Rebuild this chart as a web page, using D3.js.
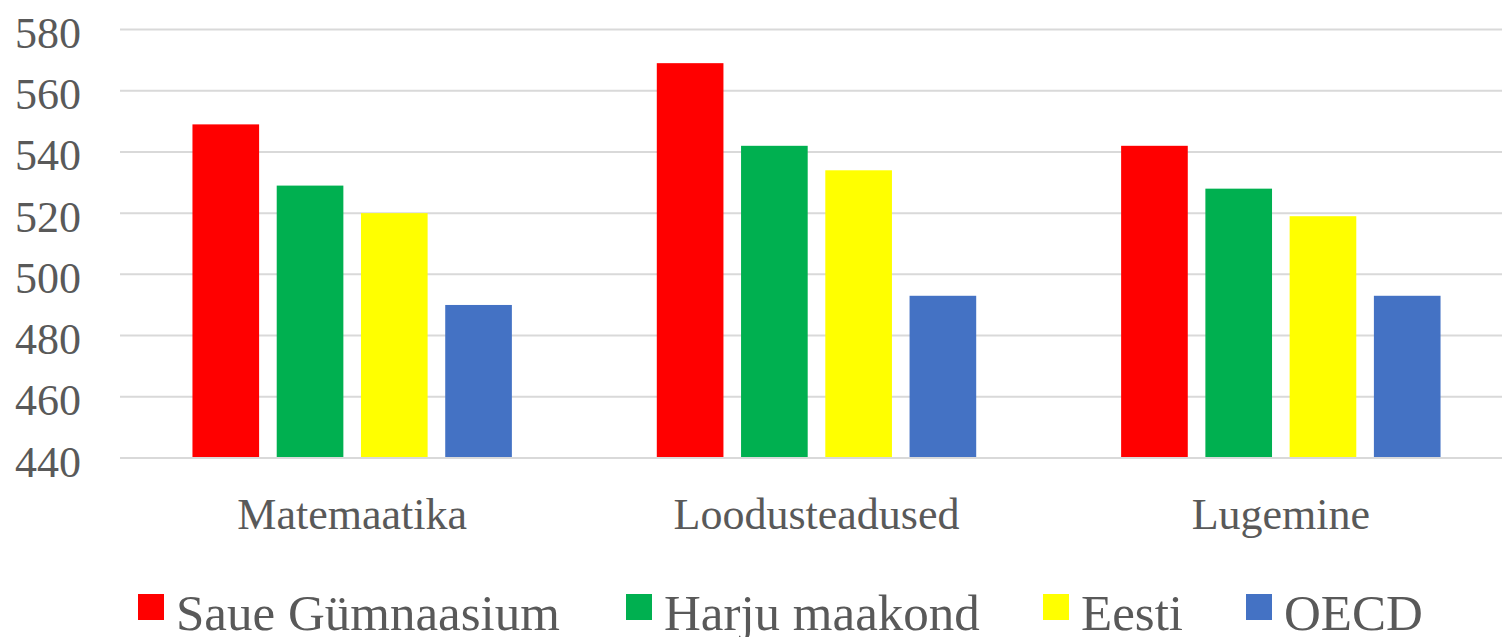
<!DOCTYPE html>
<html>
<head>
<meta charset="utf-8">
<script src="https://cdn.jsdelivr.net/npm/d3@7"></script>
<style>
  html, body { margin: 0; padding: 0; background: #fff; }
  svg { display: block; }
</style>
</head>
<body>
<div id="chart"></div>
<script>
const categories = ["Matemaatika", "Loodusteadused", "Lugemine"];
const seriesNames = ["Saue Gümnaasium", "Harju maakond", "Eesti", "OECD"];
const seriesColors = ["#FF0000", "#00B050", "#FFFF00", "#4472C4"];
const sauePoints = [549, 569, 542];
const harjuPoints = [529, 542, 528];
const eestiPoints = [520, 534, 519];
const oecdPoints = [490, 493, 493];
const yTicks = [440, 460, 480, 500, 520, 540, 560, 580];

const allSeries = [sauePoints, harjuPoints, eestiPoints, oecdPoints];

const width = 1502, height = 637;
const textColor = "#595959";

const svg = d3.select("#chart").append("svg")
  .attr("width", width)
  .attr("height", height);

const y = d3.scaleLinear().domain([440, 580]).range([458, 29.5]);
const x0 = d3.scaleBand().domain(categories).range([120, 1513]).padding(0);
const x1 = d3.scaleBand().domain(seriesNames).range([0, x0.bandwidth()])
  .paddingInner(0.209).paddingOuter(0.86);

// gridlines
yTicks.forEach(t => {
  svg.append("line")
    .attr("x1", 120).attr("x2", width)
    .attr("y1", y(t)).attr("y2", y(t))
    .attr("stroke", "#D9D9D9")
    .attr("stroke-width", 2);
});

// y labels
yTicks.forEach(t => {
  svg.append("text")
    .attr("x", 81)
    .attr("y", y(t) + 18.5)
    .attr("text-anchor", "end")
    .style("font-family", "Liberation Serif")
    .style("font-size", "44px")
    .style("fill", textColor)
    .text(t);
});

// bars
categories.forEach((c, ci) => {
  seriesNames.forEach((s, si) => {
    const v = allSeries[si][ci];
    svg.append("rect")
      .attr("x", x0(c) + x1(s))
      .attr("width", x1.bandwidth())
      .attr("y", y(v))
      .attr("height", y(440) - y(v) - 1)
      .attr("fill", seriesColors[si]);
  });
});

// category labels
categories.forEach(c => {
  svg.append("text")
    .attr("x", x0(c) + x0.bandwidth() / 2)
    .attr("y", 529)
    .attr("text-anchor", "middle")
    .style("font-family", "Liberation Serif")
    .style("font-size", "44px")
    .style("fill", textColor)
    .text(c);
});

// legend
const legendWidths = [387, 316, 102, 139];
let lx = 138;
seriesNames.forEach((name, i) => {
  svg.append("rect")
    .attr("x", lx)
    .attr("y", 594)
    .attr("width", 26)
    .attr("height", 26)
    .attr("fill", seriesColors[i]);
  svg.append("text")
    .attr("x", lx + 38)
    .attr("y", 630)
    .style("font-family", "Liberation Serif")
    .style("font-size", "51px")
    .style("fill", textColor)
    .text(name);
  lx += 38 + legendWidths[i] + 63;
});
</script>
</body>
</html>
